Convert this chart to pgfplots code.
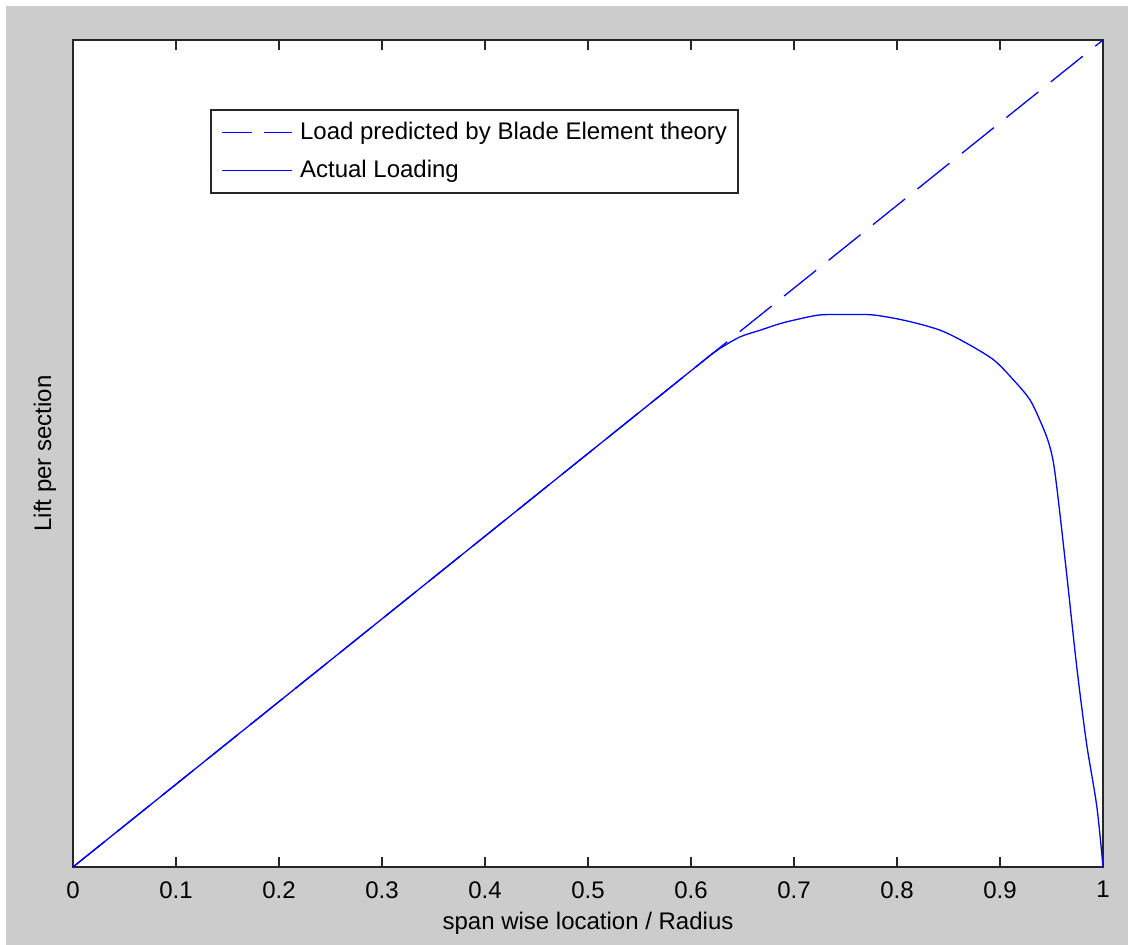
\documentclass[border=0pt]{standalone}
\usepackage{pgfplots}
\pgfplotsset{compat=1.18}
\usepackage{fontspec}
\setmainfont{Liberation Sans}
\definecolor{bggray}{RGB}{204,204,204}
\definecolor{mblue}{RGB}{0,0,255}
\begin{document}
\fontsize{12}{14}\selectfont
\begin{tikzpicture}
% page: 1128x945 px at 0.5pt per px
\useasboundingbox (0,0) rectangle (564pt,472.5pt);
\fill[white] (0,0) rectangle (564pt,472.5pt);
\fill[bggray] (3pt,0) rectangle (564pt,469.5pt);
\begin{axis}[
at={(36.5pt,39pt)}, anchor=south west,
scale only axis,
width=515pt, height=413.5pt,
xmin=0, xmax=1, ymin=0, ymax=1,
axis background/.style={fill=white},
axis line style={line width=0.8pt, black!85},
xtick={0,0.1,...,1},
ytick=\empty,
tick align=inside,
xtick pos=both,
major tick length=5pt,
tick style={line width=0.8pt, black!85},
/pgf/number format/assume math mode=true,
xticklabel style={font=\fontsize{12}{14}\selectfont, yshift=-3pt},
xticklabel={\pgfmathprintnumber[fixed,precision=1]{\tick}},
xlabel={span wise location / Radius},
ylabel={Lift per section},
xlabel style={font=\fontsize{12}{14}\selectfont, at={(axis description cs:0.5,-0.0677)}, anchor=center},
ylabel style={font=\fontsize{12}{14}\selectfont, at={(axis description cs:-0.0272,0.5)}, anchor=center},
legend style={at={(rel axis cs:0.133,0.9166)}, anchor=north west,
  draw=black!85, line width=0.8pt, fill=white,
  font=\fontsize{12}{14}\selectfont, inner xsep=3.5pt, inner ysep=4pt,
  row sep=4.5pt,
  /tikz/every odd column/.append style={column sep=1.5pt}},
legend cell align=left,
]
\addplot[mblue, line width=0.65pt, dash pattern=on 20.5pt off 8pt,
  legend image code/.code={\path (0pt,0pt); \draw[mblue, line width=0.65pt, dash pattern=on 15pt off 6pt] (2pt,0pt) -- (37pt,0pt);}]
  coordinates {(0,0) (1,1)};
\addlegendentry{Load predicted by Blade Element theory}
\addplot[mblue, line width=0.65pt, smooth,
  legend image code/.code={\path (0pt,0pt); \draw[mblue, line width=0.65pt] (2pt,0pt) -- (37pt,0pt);}]
  coordinates {
(0,0) (0.2,0.2) (0.4,0.4) (0.6,0.6) (0.62,0.62) (0.628,0.627) (0.6476,0.641) (0.667,0.649) (0.6864,0.657)
(0.7026,0.662) (0.725,0.6675) (0.751,0.668) (0.777,0.6675) (0.809,0.6605)
(0.842,0.649) (0.868,0.633) (0.894,0.613) (0.913,0.589) (0.929,0.565)
(0.940,0.5365) (0.947,0.514) (0.952,0.488) (0.957,0.4397) (0.965,0.351)
(0.9745,0.242) (0.984,0.1496) (0.994,0.073) (1.0,0)
};
\addlegendentry{Actual Loading}
\end{axis}
\end{tikzpicture}
\end{document}
